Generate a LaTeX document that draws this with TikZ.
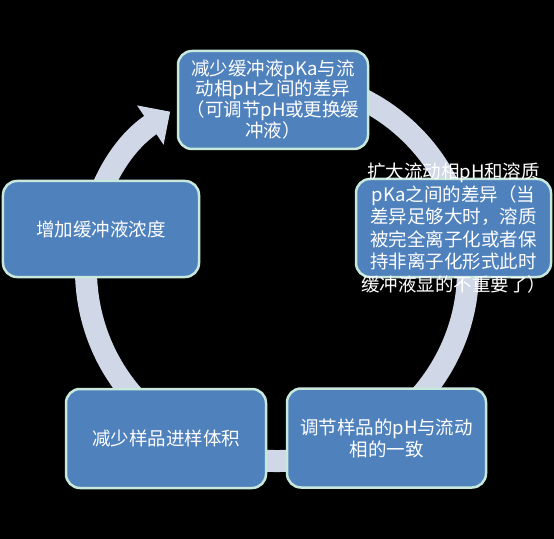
\documentclass[tikz,border=0pt]{standalone}
\usepackage{fontspec}
\setmainfont{Noto Sans CJK SC}
\usetikzlibrary{arrows.meta}
\definecolor{boxblue}{RGB}{79,129,189}
\definecolor{boxline}{RGB}{200,232,220}
\definecolor{ringgray}{RGB}{208,216,232}
\begin{document}
\begin{tikzpicture}[x=1bp,y=-1bp,
  stepbox/.style={draw=boxline,line width=2.5bp,fill=boxblue,rounded corners=14bp,
    text=white,align=center,inner sep=0},
  steptext/.style={text=white,align=center,inner sep=0}]
\fill[black] (0,0) rectangle (554,539);
\useasboundingbox (0,0) rectangle (554,539);
% ring with the arrow
\draw[ringgray,line width=22bp,-{Triangle[length=24bp,width=46bp]}] (277,270) ++(-100:191)
  arc[start angle=-100,end angle=236,radius=191];
% boxes
\node[stepbox,minimum width=190bp,minimum height=98bp,font=\fontsize{18.5bp}{20bp}\selectfont] (buffer) at (273,100)
  {减少缓冲液pKa与流\\动相pH之间的差异\\（可调节pH或更换缓\\冲液）};
\node[stepbox,minimum width=195bp,minimum height=98bp] (diff) at (453.5,228) {};
\node[steptext,font=\fontsize{18.5bp}{22.5bp}\selectfont] (difftext) at (diff.center)
  {扩大流动相pH和溶质\\pKa之间的差异（当\\差异足够大时，溶质\\被完全离子化或者保\\持非离子化形式此时\\缓冲液显的不重要了）};
\node[stepbox,minimum width=199bp,minimum height=99bp,font=\fontsize{18.5bp}{22bp}\selectfont] (samplepH) at (386.5,438)
  {调节样品的pH与流动\\相的一致};
\node[stepbox,minimum width=200bp,minimum height=99bp,font=\fontsize{18.5bp}{22bp}\selectfont] (volume) at (166,438.5)
  {减少样品进样体积};
\node[stepbox,minimum width=196bp,minimum height=96bp,font=\fontsize{18.5bp}{22bp}\selectfont] (conc) at (101,229)
  {增加缓冲液浓度};
\end{tikzpicture}
\end{document}
